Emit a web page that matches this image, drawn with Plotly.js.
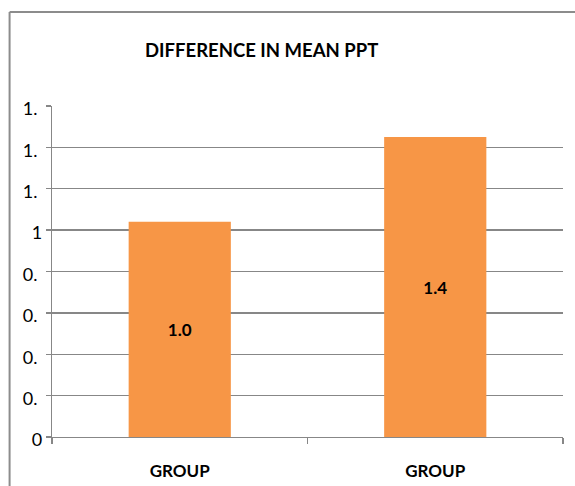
<!DOCTYPE html>
<html>
<head>
<meta charset="utf-8">
<script src="https://cdn.plot.ly/plotly-3.0.1.min.js"></script>
<style>
  html, body { margin: 0; padding: 0; background: #ffffff; }
  #chart { width: 575px; height: 486px; }
</style>
</head>
<body>
<div id="chart"></div>
<script>
// ---- data ----
const groups = ["GROUP", "GROUP"];
const values = [1.04, 1.45];
const valueLabels = ["1.0", "1.4"];
const yTickVals = [0, 0.2, 0.4, 0.6, 0.8, 1.0, 1.2, 1.4, 1.6];
const yTickText = ["0", "0.\u00a0", "0.\u00a0", "0.\u00a0", "0.\u00a0", "1", "1.\u00a0", "1.\u00a0", "1.\u00a0"];
const chartTitle = "DIFFERENCE IN MEAN PPT";

const xPos = groups.map((g, i) => i);
const GRID = "#878787";
const FONT = "Lato, 'Open Sans', sans-serif";

const trace = {
  type: "bar",
  x: xPos,
  y: values,
  text: valueLabels,
  textposition: "inside",
  insidetextanchor: "middle",
  textangle: 0,
  textfont: { family: FONT, size: 17, color: "#000000", weight: "bold" },
  marker: { color: "#F79646", line: { width: 0 } },
  width: 0.4,
  hoverinfo: "none",
  cliponaxis: false
};

const layout = {
  width: 575,
  height: 486,
  margin: { l: 52, r: 12, t: 106, b: 49, pad: 0 },
  paper_bgcolor: "#ffffff",
  plot_bgcolor: "#ffffff",
  showlegend: false,
  font: { family: FONT, color: "#000000" },
  title: {
    text: chartTitle,
    font: { family: FONT, size: 18.5, color: "#000000", weight: "bold" },
    xref: "container", x: 0.455, xanchor: "center",
    yref: "container", y: 0.897, yanchor: "middle"
  },
  xaxis: {
    range: [-0.5, 1.5],
    tickmode: "array",
    tickvals: xPos,
    ticktext: groups,
    ticks: "",
    ticklabelstandoff: 18,
    tickfont: { family: FONT, size: 17, color: "#000000", weight: "bold" },
    showgrid: false,
    zeroline: false,
    showline: true,
    linecolor: GRID,
    linewidth: 1.3,
    minor: { tick0: -0.5, dtick: 1, ticks: "outside", ticklen: 6, tickcolor: GRID, tickwidth: 1.3, showgrid: false },
    fixedrange: true
  },
  yaxis: {
    range: [0, 1.6],
    tickmode: "array",
    tickvals: yTickVals,
    ticktext: yTickText,
    ticks: "outside",
    ticklen: 5,
    tickcolor: GRID,
    tickwidth: 1.3,
    ticklabelstandoff: 0,
    ticklabelshift: 3,
    tickfont: { family: FONT, size: 18, color: "#000000" },
    showgrid: true,
    gridcolor: GRID,
    gridwidth: 1.3,
    zeroline: false,
    showline: true,
    linecolor: GRID,
    linewidth: 1.3,
    fixedrange: true
  },
  shapes: [
    { type: "line", xref: "paper", yref: "paper", x0: -0.083, x1: -0.083, y0: 1.284, y1: -1, line: { color: "#8c8c8c", width: 2 } },
    { type: "line", xref: "paper", yref: "paper", x0: -0.083, x1: 2, y0: 1.284, y1: 1.284, line: { color: "#8c8c8c", width: 2 } }
  ]
};

Plotly.newPlot("chart", [trace], layout, { displayModeBar: false, staticPlot: true });
</script>
</body>
</html>
